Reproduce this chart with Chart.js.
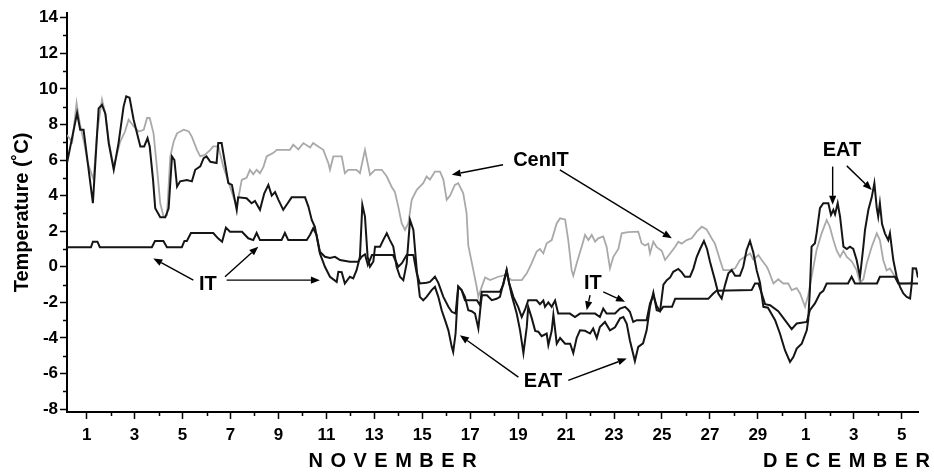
<!DOCTYPE html>
<html>
<head>
<meta charset="utf-8">
<script src="https://cdn.jsdelivr.net/npm/chart.js@4/dist/chart.umd.min.js"></script>
<style>
  html, body { margin: 0; padding: 0; background: #fff; }
  canvas { display: block; }
</style>
</head>
<body>
<canvas id="chart" width="934" height="473"></canvas>
<script>
// Hourly-ish temperature records, [day of November, °C]; days past 30 run into December.
const eat = [
  [0.18,5.83],[0.6,8.64],[0.73,7.7],[0.87,7.7],[1.26,3.57],[1.5,8.9],[1.64,9.1],[1.78,8.6],[1.92,6.95],
  [2.13,5.45],[2.33,6.95],[2.54,9.0],[2.65,9.58],[2.79,9.5],[2.96,8.26],[3.24,6.76],[3.4,6.76],[3.54,7.23],
  [3.63,6.76],[3.77,4.88],[3.86,3.29],[4.07,2.78],[4.28,2.78],[4.42,3.29],[4.56,6.2],[4.66,6.0],[4.77,4.5],
  [4.9,4.8],[5.18,4.88],[5.39,4.8],[5.53,5.45],[5.74,5.64],[5.88,6.1],[6.0,6.2],[6.16,5.9],[6.42,5.83],
  [6.49,6.95],[6.63,6.95],[6.77,5.83],[6.91,4.7],[7.06,4.6],[7.26,3.2],[7.32,3.9],[7.67,3.85],[7.88,3.57],
  [8.02,3.7],[8.23,3.2],[8.41,4.13],[8.58,4.6],[8.72,4.0],[8.86,4.2],[9.0,3.76],[9.2,3.2],[9.4,3.6],
  [9.55,3.9],[10.11,3.9],[10.25,3.38],[10.39,2.63],[10.52,2.25],[10.73,0.75],[10.94,0],[11.15,-0.56],
  [11.43,-0.85],[11.5,-0.28],[11.64,-0.3],[11.77,-0.94],[11.98,-0.56],[12.12,-0.65],[12.26,-0.19],
  [12.4,0.56],[12.5,3.48],[12.61,2.82],[12.72,0.56],[12.82,0],[12.96,0.3],[13.03,1.13],[13.24,1.13],
  [13.37,1.5],[13.52,1.88],[13.65,1.5],[13.79,1.13],[13.93,0],[14.07,-0.56],[14.21,-0.75],[14.35,0.19],
  [14.49,2.63],[14.63,2.07],[14.77,-0.19],[14.9,-1.69],[15.04,-1.88],[15.18,-1.69],[15.39,-1.31],
  [15.53,-1.13],[15.67,-1.69],[15.81,-2.44],[15.95,-3.0],[16.09,-3.57],[16.23,-4.5],[16.29,-4.79],
  [16.39,-3.75],[16.5,-1.13],[16.64,-1.31],[16.78,-1.69],[16.92,-2.44],[17.06,-2.5],[17.2,-2.63],
  [17.34,-3.47],[17.45,-2.0],[17.49,-1.6],[17.7,-1.6],[17.9,-1.88],[18.1,-1.8],[18.24,-1.69],[18.38,-0.94],
  [18.52,-0.19],[18.62,-0.9],[18.73,-1.6],[18.94,-2.63],[19.08,-3.57],[19.22,-4.85],[19.36,-3.38],
  [19.42,-2.25],[19.57,-2.9],[19.71,-3.6],[19.84,-3.65],[19.98,-3.9],[20.19,-3.75],[20.26,-4.4],[20.4,-3.6],
  [20.47,-2.7],[20.61,-4.32],[20.75,-4.0],[20.96,-4.32],[21.17,-4.32],[21.3,-4.85],[21.44,-4.0],
  [21.58,-3.57],[21.79,-3.6],[22.0,-3.75],[22.13,-3.47],[22.28,-4.0],[22.41,-3.38],[22.62,-3.1],
  [22.83,-3.57],[23.04,-3.4],[23.25,-2.9],[23.39,-2.82],[23.53,-3.2],[23.66,-4.13],[23.87,-5.3],
  [24.01,-4.5],[24.21,-4.3],[24.36,-3.57],[24.5,-2.25],[24.64,-1.45],[24.78,-2.44],[24.92,-2.5],
  [25.06,-1.0],[25.2,-0.75],[25.34,-0.6],[25.47,-0.28],[25.68,-0.12],[25.82,-0.3],[25.96,-0.56],
  [26.17,-0.56],[26.31,-0.1],[26.45,0.56],[26.59,1.0],[26.75,1.45],[26.88,1.0],[27.0,0.3],[27.21,-0.75],
  [27.35,-1.5],[27.49,-1.78],[27.63,-1.03],[27.77,-0.37],[27.91,-0.19],[28.05,-0.5],[28.25,-0.5],
  [28.39,0],[28.53,0.94],[28.67,1.45],[28.81,0.8],[28.95,-0.19],[29.09,-0.9],[29.23,-2.25],[29.42,-2.3],
  [29.72,-3.0],[29.92,-3.75],[30.13,-4.69],[30.34,-5.35],[30.48,-5.07],[30.62,-4.6],[30.83,-4.32],
  [31.04,-3.57],[31.1,-3.0],[31.17,-1.31],[31.24,1.13],[31.38,1.32],[31.45,1.88],[31.59,3.29],
  [31.73,3.57],[31.94,3.57],[32.05,2.91],[32.15,3.2],[32.22,2.95],[32.33,3.57],[32.43,2.8],[32.57,1.13],
  [32.71,1.0],[32.84,1.13],[32.98,1.0],[33.12,0.38],[33.26,-0.56],[33.4,1.13],[33.47,2.07],[33.61,3.2],
  [33.75,3.9],[33.86,4.7],[33.96,3.3],[34.02,2.82],[34.09,3.57],[34.18,2.4],[34.3,1.88],[34.44,1.5],
  [34.51,1.88],[34.65,0.38],[34.79,-0.56],[34.93,-1.13],[35.07,-1.5],[35.21,-1.69],[35.35,-1.78],
  [35.42,-0.94],[35.46,-0.09],[35.6,-0.1],[35.68,-0.6]
];

const cenIT = [
  [0.18,7.4],[0.4,7.0],[0.58,9.2],[0.72,8.0],[0.89,7.0],[1.05,5.8],[1.29,4.9],[1.43,7.5],[1.64,9.4],
  [1.78,8.6],[1.93,7.0],[2.13,5.6],[2.39,7.0],[2.6,7.6],[2.75,8.26],[2.96,7.9],[3.17,7.6],[3.38,7.7],
  [3.52,8.36],[3.63,8.36],[3.79,7.5],[3.93,5.6],[4.07,3.57],[4.21,2.8],[4.35,2.9],[4.49,6.2],[4.63,7.04],
  [4.77,7.5],[5.05,7.7],[5.26,7.6],[5.39,7.3],[5.6,6.57],[5.74,6.2],[5.94,6.3],[6.16,6.57],[6.28,6.76],
  [6.49,6.76],[6.7,5.63],[6.98,4.5],[7.26,3.38],[7.47,4.88],[7.67,5.0],[7.81,5.45],[7.95,5.2],[8.09,5.45],
  [8.23,5.26],[8.37,5.6],[8.51,6.2],[8.79,6.4],[8.93,6.57],[9.48,6.57],[9.62,6.86],[9.83,6.6],[10.04,6.95],
  [10.32,6.7],[10.45,6.95],[10.66,6.76],[10.87,6.57],[11.08,5.83],[11.15,5.45],[11.29,6.2],[11.64,6.2],
  [11.77,5.26],[11.91,5.45],[12.26,5.45],[12.4,5.26],[12.61,6.57],[12.82,5.16],[13.03,5.45],[13.31,5.45],
  [13.52,5.07],[13.72,4.5],[13.86,4.2],[14.0,3.38],[14.14,2.45],[14.28,2.07],[14.42,2.45],[14.56,3.76],
  [14.77,4.32],[14.9,4.5],[15.04,4.7],[15.18,5.07],[15.32,4.9],[15.53,5.35],[15.74,5.35],[15.88,4.9],
  [16.02,3.76],[16.16,4.0],[16.36,4.6],[16.5,4.7],[16.71,4.13],[16.85,3.0],[16.92,1.2],[17.13,-0.19],
  [17.27,-1.13],[17.34,-1.69],[17.48,-1.13],[17.62,-0.6],[17.83,-0.75],[18.17,-0.56],[18.45,-0.47],
  [18.73,-0.75],[19.15,-0.75],[19.36,-0.37],[19.56,0.19],[19.77,0.85],[19.91,1.0],[20.05,0.75],
  [20.19,1.32],[20.4,1.5],[20.61,2.45],[20.75,2.72],[20.96,2.66],[21.09,1.5],[21.23,-0.19],[21.3,-0.5],
  [21.44,0.19],[21.65,1.13],[21.79,1.79],[21.93,1.5],[22.07,1.79],[22.21,1.41],[22.34,1.6],[22.55,1.7],
  [22.69,1.13],[22.83,-0.09],[22.97,0.56],[23.18,1.0],[23.32,1.88],[23.58,1.95],[24.01,1.97],[24.15,1.32],
  [24.29,1.2],[24.43,1.3],[24.5,0.75],[24.64,1.41],[24.78,1.1],[24.99,0.9],[25.13,0.38],[25.34,0.75],
  [25.55,1.13],[25.68,1.41],[25.82,1.3],[26.03,1.5],[26.24,1.6],[26.45,1.97],[26.66,2.25],[26.86,2.1],
  [27.07,1.6],[27.21,1.3],[27.42,0.38],[27.56,-0.19],[27.84,-0.19],[28.05,-0.09],[28.25,0.38],[28.46,0.56],
  [28.67,0.75],[28.81,0.4],[29.02,0.66],[29.16,0.38],[29.37,0.0],[29.44,-0.19],[29.65,-0.94],[29.85,-0.7],
  [30.06,-0.94],[30.27,-0.94],[30.41,-1.31],[30.62,-1.2],[30.76,-1.5],[30.97,-2.25],[31.1,-1.6],
  [31.24,-0.56],[31.45,0.94],[31.66,1.88],[31.87,2.63],[32.0,2.25],[32.15,1.5],[32.29,0.9],[32.43,0.56],
  [32.57,0.9],[32.71,0.56],[32.92,0.3],[33.12,-0.19],[33.26,-0.9],[33.4,-0.7],[33.54,0.19],[33.75,1.13],
  [33.96,1.88],[34.09,1.5],[34.23,0.38],[34.37,-0.2],[34.51,-0.1],[34.65,-0.4],[34.86,-0.94],[35.14,-0.94],
  [35.35,-0.9],[35.47,-0.75]
];

const it = [
  [0.18,1.1],[1.18,1.1],[1.26,1.41],[1.45,1.41],[1.55,1.1],[3.72,1.1],[3.85,1.45],[4.2,1.45],[4.35,1.1],
  [4.97,1.1],[5.08,1.45],[5.18,1.45],[5.35,1.9],[6.28,1.9],[6.48,1.6],[6.65,1.41],[6.81,2.2],[6.98,1.97],
  [7.48,1.97],[7.74,1.6],[7.95,1.5],[8.09,1.9],[8.23,1.5],[9.13,1.5],[9.27,1.9],[9.41,1.5],[10.18,1.5],
  [10.32,1.8],[10.45,2.16],[10.59,1.8],[10.73,0.85],[10.94,0.56],[11.15,0.5],[11.36,0.56],[11.57,0.38],
  [11.98,0.28],[12.32,0.28],[12.47,0.56],[12.61,0.7],[12.73,0.1],[12.9,0.66],[13.78,0.66],[14.0,0.0],
  [14.15,0.2],[14.35,0.66],[14.63,0.66],[14.77,-0.37],[14.9,-0.94],[15.18,-0.9],[15.32,-0.85],[15.53,-0.56],
  [15.67,-0.9],[15.88,-1.69],[16.09,-2.25],[16.23,-2.53],[16.39,-2.63],[16.5,-1.1],[16.64,-1.3],
  [16.78,-1.88],[17.28,-1.88],[17.41,-2.16],[17.48,-1.41],[18.24,-1.41],[18.38,-1.0],[18.52,-0.19],
  [18.62,-0.9],[18.8,-1.69],[19.0,-2.25],[19.15,-2.82],[19.29,-2.4],[19.42,-1.88],[19.77,-1.88],
  [19.91,-2.1],[20.05,-1.9],[20.12,-2.25],[20.26,-2.0],[20.4,-2.25],[20.54,-1.9],[20.67,-2.63],
  [21.16,-2.63],[21.37,-2.82],[21.58,-2.63],[22.21,-2.63],[22.41,-2.82],[22.55,-2.35],[22.69,-2.63],
  [23.04,-2.63],[23.25,-2.35],[23.46,-2.25],[23.58,-2.4],[23.66,-2.53],[23.8,-3.1],[23.95,-3.0],
  [24.36,-3.0],[24.5,-2.06],[24.64,-1.6],[24.78,-2.2],[24.92,-2.5],[25.05,-2.25],[25.42,-2.25],
  [25.55,-1.8],[26.93,-1.8],[27.14,-1.5],[27.28,-1.35],[28.74,-1.31],[28.88,-0.94],[29.02,-0.94],
  [29.16,-1.5],[29.3,-2.1],[29.51,-2.16],[29.85,-2.5],[30.13,-3.0],[30.41,-3.5],[30.62,-3.19],
  [31.04,-3.1],[31.17,-2.44],[31.38,-2.06],[31.59,-1.5],[31.73,-1.35],[31.87,-0.94],[32.76,-0.94],
  [32.91,-0.56],[33.05,-0.94],[33.97,-0.94],[34.09,-0.56],[34.72,-0.56],[34.86,-0.94],[35.68,-0.94]
];

// Axis ticks: labelled days (November 1..29, then December 1, 3, 5) and temperatures.
const xTickDays = [1,3,5,7,9,11,13,15,17,19,21,23,25,27,29,31,33,35];
const xTickLabels = ['1','3','5','7','9','11','13','15','17','19','21','23','25','27','29','1','3','5'];
const xMinorDays = [2,4,6,8,10,12,14,16,18,20,22,24,26,28,30,32,34];
const yTickValues = [-8,-6,-4,-2,0,2,4,6,8,10,12,14];
const yMinorValues = [-7,-5,-3,-1,1,3,5,7,9,11,13];

// Month names under the day axis, centred on a day.
const months = [
  { text: 'NOVEMBER', day: 13.76 },
  { text: 'DECEMBER', day: 32.7 }
];

// Series call-outs: label anchor and arrows (tail -> head), in [day, °C].
const callouts = [
  { text: 'CenIT', at: [19.95, 5.96],
    arrows: [[[18.37, 5.73], [16.23, 5.17]], [[20.74, 5.45], [25.41, 1.6]]] },
  { text: 'EAT', at: [32.51, 6.52],
    arrows: [[[32.12, 5.63], [32.12, 3.48]], [[32.71, 5.67], [33.75, 4.32]]] },
  { text: 'IT', at: [6.06, -0.97],
    arrows: [[[5.45, -0.75], [3.78, 0.47]], [[6.77, -0.56], [8.16, 1.13]], [[6.84, -0.75], [10.73, -0.75]]] },
  { text: 'IT', at: [22.12, -0.92],
    arrows: [[[22.0, -1.59], [21.86, -2.44]], [[22.55, -1.41], [23.46, -1.97]]] },
  { text: 'EAT', at: [20.04, -6.44],
    arrows: [[[19.01, -6.2], [16.57, -3.85]], [[21.09, -6.38], [23.53, -5.16]]] }
];

const FONT = "'Liberation Sans', Arial, Helvetica, sans-serif";
const toPoints = arr => arr.map(([x, y]) => ({ x, y }));

function drawArrow(ctx, x1, y1, x2, y2) {
  const ang = Math.atan2(y2 - y1, x2 - x1);
  const len = 9, half = 3.6;
  const bx = x2 - len * Math.cos(ang), by = y2 - len * Math.sin(ang);
  ctx.beginPath();
  ctx.moveTo(x1, y1);
  ctx.lineTo(bx, by);
  ctx.stroke();
  ctx.beginPath();
  ctx.moveTo(x2, y2);
  ctx.lineTo(bx + half * Math.sin(ang), by - half * Math.cos(ang));
  ctx.lineTo(bx - half * Math.sin(ang), by + half * Math.cos(ang));
  ctx.closePath();
  ctx.fill();
}

const overlay = {
  id: 'overlay',
  afterDraw(chart) {
    const { ctx, chartArea: a, scales: { x, y } } = chart;
    ctx.save();

    // minor ticks
    ctx.strokeStyle = '#000';
    ctx.lineWidth = 1.5;
    ctx.beginPath();
    xMinorDays.forEach(d => {
      const px = Math.round(x.getPixelForValue(d)) + 0.5;
      ctx.moveTo(px, a.bottom);
      ctx.lineTo(px, a.bottom + 4);
    });
    yMinorValues.forEach(v => {
      const py = Math.round(y.getPixelForValue(v)) + 0.5;
      ctx.moveTo(a.left, py);
      ctx.lineTo(a.left - 4, py);
    });
    ctx.stroke();

    // call-outs
    ctx.fillStyle = '#000';
    ctx.strokeStyle = '#000';
    ctx.lineWidth = 1.4;
    ctx.font = `bold 20px ${FONT}`;
    ctx.textAlign = 'center';
    ctx.textBaseline = 'middle';
    callouts.forEach(c => {
      ctx.fillText(c.text, x.getPixelForValue(c.at[0]), y.getPixelForValue(c.at[1]));
      c.arrows.forEach(([t, h]) => {
        drawArrow(ctx,
          x.getPixelForValue(t[0]), y.getPixelForValue(t[1]),
          x.getPixelForValue(h[0]), y.getPixelForValue(h[1]));
      });
    });

    // spaced month names
    ctx.font = `bold 20px ${FONT}`;
    ctx.textAlign = 'left';
    const spacing = 7.5;
    months.forEach(m => {
      const chars = m.text.split('');
      const widths = chars.map(ch => ctx.measureText(ch).width);
      const total = widths.reduce((s, w) => s + w, 0) + spacing * (chars.length - 1);
      let cx = x.getPixelForValue(m.day) - total / 2;
      const cy = a.bottom + 49;
      chars.forEach((ch, i) => {
        ctx.fillText(ch, cx, cy);
        cx += widths[i] + spacing;
      });
    });

    ctx.restore();
  }
};

const lineStyle = { borderWidth: 2, pointRadius: 0, tension: 0, fill: false };

new Chart(document.getElementById('chart'), {
  type: 'line',
  data: {
    datasets: [
      { label: 'EAT', data: toPoints(eat), borderColor: '#151515', ...lineStyle },
      { label: 'IT', data: toPoints(it), borderColor: '#151515', ...lineStyle },
      { label: 'CenIT', data: toPoints(cenIT), borderColor: '#a9a9a9', ...lineStyle, borderWidth: 1.8 }
    ]
  },
  options: {
    responsive: false,
    devicePixelRatio: 1,
    animation: false,
    layout: { padding: { top: 13, right: 16, left: 0, bottom: 0 } },
    plugins: { legend: { display: false }, tooltip: { enabled: false } },
    scales: {
      x: {
        type: 'linear',
        min: 0.18,
        max: 35.68,
        afterBuildTicks: s => { s.ticks = xTickDays.map(v => ({ value: v })); },
        afterFit: s => { s.height = 61; },
        ticks: {
          autoSkip: false,
          maxRotation: 0,
          padding: 6,
          color: '#000',
          font: { family: FONT, size: 17, weight: 'bold' },
          callback: (v, i) => xTickLabels[i]
        },
        grid: { display: true, drawOnChartArea: false, drawTicks: true, tickLength: 7, tickColor: '#000', tickWidth: 1.5 },
        border: { display: true, color: '#000', width: 2 }
      },
      y: {
        type: 'linear',
        min: -8.16,
        max: 14.26,
        afterBuildTicks: s => { s.ticks = yTickValues.map(v => ({ value: v })); },
        afterFit: s => { s.width = 67; },
        ticks: {
          autoSkip: false,
          padding: 2,
          color: '#000',
          font: { family: FONT, size: 17, weight: 'bold' },
          callback: v => String(v)
        },
        grid: { display: true, drawOnChartArea: false, drawTicks: true, tickLength: 7, tickColor: '#000', tickWidth: 1.5 },
        border: { display: true, color: '#000', width: 2 },
        title: {
          display: true,
          text: 'Temperature (˚C)',
          color: '#000',
          font: { family: FONT, size: 20, weight: 'bold' },
          padding: { top: 10, bottom: 0 }
        }
      }
    }
  },
  plugins: [overlay]
});
</script>
</body>
</html>
